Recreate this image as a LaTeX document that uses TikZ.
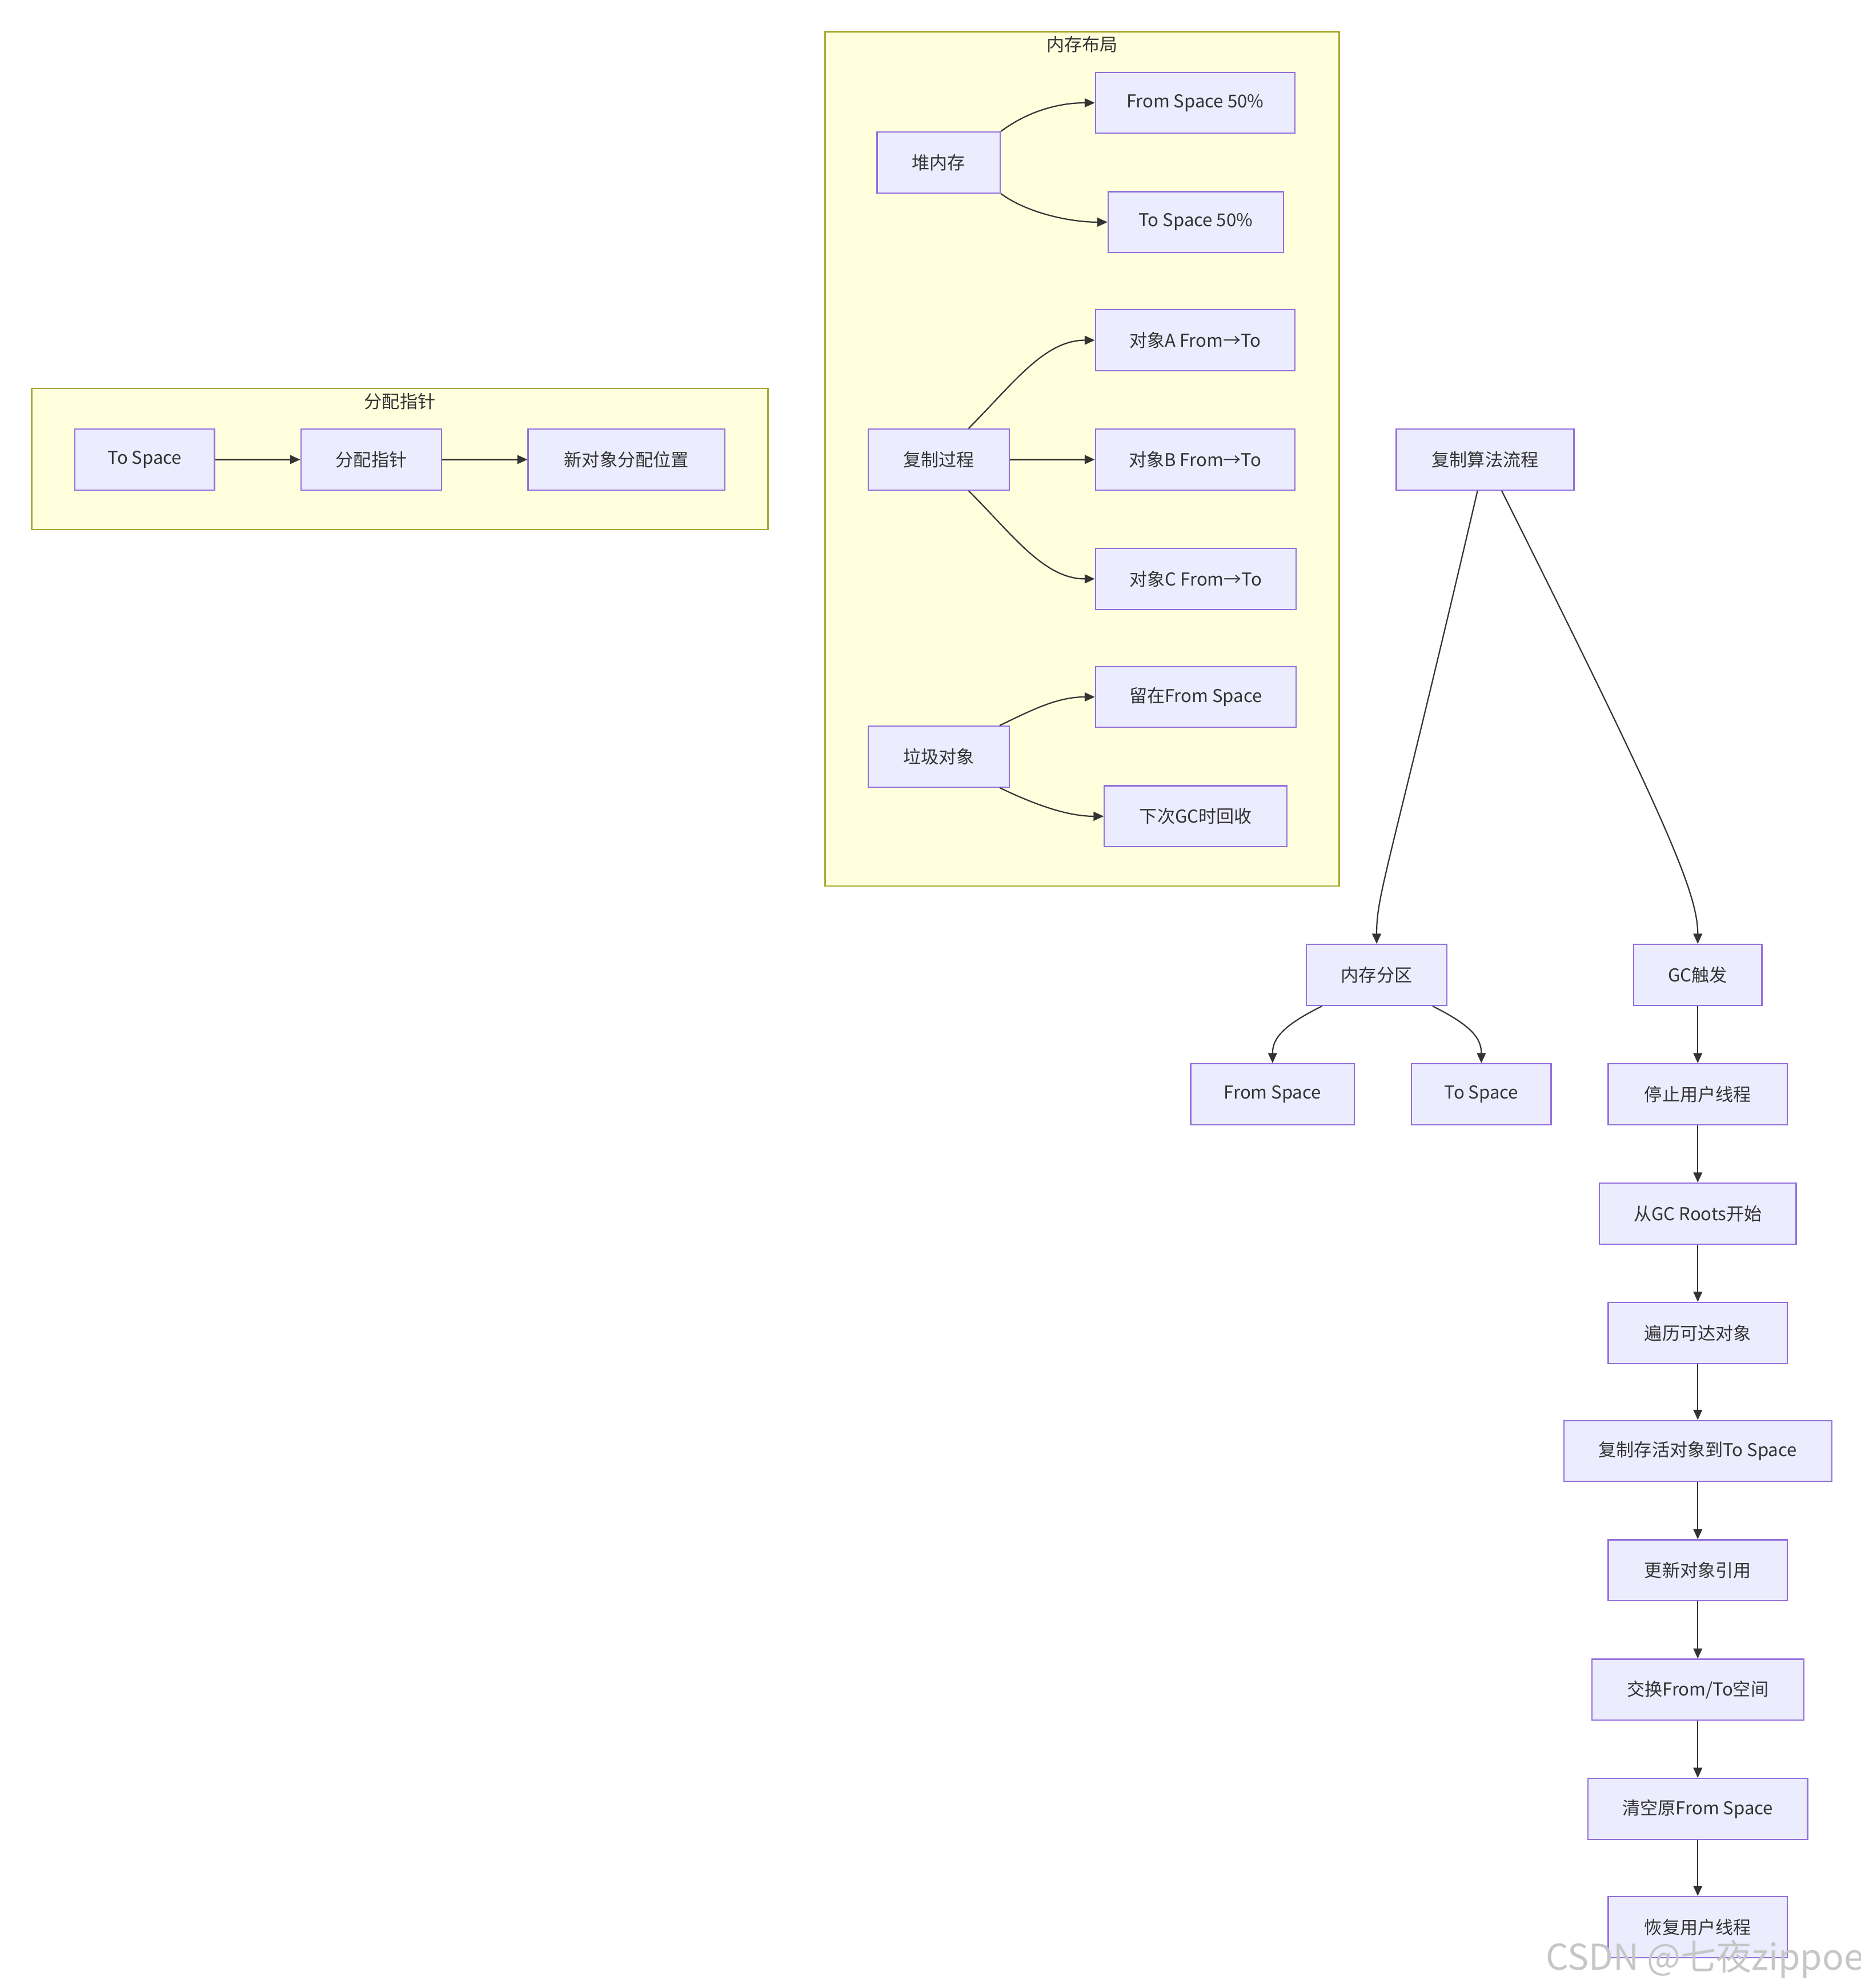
\documentclass[tikz,border=0pt]{standalone}
\usepackage{fontspec}
\setmainfont{Noto Sans CJK SC}
\usepackage{tikz}
\usepackage{xcolor}
\usetikzlibrary{arrows.meta,calc}
\definecolor{boxfill}{HTML}{ECECFF}
\definecolor{boxline}{HTML}{9370DB}
\definecolor{grpfill}{HTML}{FFFFDE}
\definecolor{grpline}{HTML}{AAAA33}
\definecolor{edge}{HTML}{333333}

\begin{document}
\begin{tikzpicture}[x=1pt,y=-1pt,
  box/.style={draw=boxline, fill=boxfill, line width=1pt, minimum height=48pt, inner sep=0pt, font=\fontsize{14}{16}\selectfont, text=edge},
  group/.style={draw=grpline, fill=grpfill, line width=1pt, inner sep=0pt},
  grouptitle/.style={font=\fontsize{14}{16}\selectfont, text=edge, inner sep=0pt},
  link/.style={-{Triangle[length=8pt,width=7pt]}, draw=edge, line width=1pt}]
\useasboundingbox[fill=white] (0,0) rectangle (1466,1566);

% Groups
\node[group, minimum width=405pt, minimum height=673pt] (memgrp) at (852.5,361.5) {};
\node[grouptitle] (memtitle) at (852.5,35) {内存布局};
\node[group, minimum width=580pt, minimum height=111pt] (ptrgrp) at (315,361.5) {};
\node[grouptitle] (ptrtitle) at (315,316) {分配指针};

% Memory layout
\node[box, minimum width=97pt] (heap) at (739.5,128) {堆内存};
\node[box, minimum width=157pt] (fromhalf) at (941.5,81) {From Space 50\%};
\node[box, minimum width=138pt] (tohalf) at (942,175) {To Space 50\%};
\node[box, minimum width=111pt] (copy) at (739.5,362) {复制过程};
\node[box, minimum width=157pt] (objA) at (941.5,268) {对象A From→To};
\node[box, minimum width=157pt] (objB) at (941.5,362) {对象B From→To};
\node[box, minimum width=158pt] (objC) at (942,456) {对象C From→To};
\node[box, minimum width=111pt] (garbage) at (739.5,596) {垃圾对象};
\node[box, minimum width=158pt] (stay) at (942,549) {留在From Space};
\node[box, minimum width=144pt] (nextgc) at (942,643) {下次GC时回收};

% Allocation pointer
\node[box, minimum width=110pt] (tosp) at (114,362) {To Space};
\node[box, minimum width=111pt] (ptr) at (292.5,362) {分配指针};
\node[box, minimum width=155pt] (newpos) at (493.5,362) {新对象分配位置};

% Algorithm flow
\node[box, minimum width=140pt] (flow) at (1170,362) {复制算法流程};
\node[box, minimum width=111pt] (part) at (1084.5,768) {内存分区};
\node[box, minimum width=101pt] (gc) at (1337.5,768) {GC触发};
\node[box, minimum width=129pt] (fromsp) at (1002.5,862) {From Space};
\node[box, minimum width=110pt] (tosp2) at (1167,862) {To Space};
\node[box, minimum width=141pt] (stop) at (1337.5,862) {停止用户线程};
\node[box, minimum width=155pt] (roots) at (1337.5,956) {从GC Roots开始};
\node[box, minimum width=141pt] (trav) at (1337.5,1050) {遍历可达对象};
\node[box, minimum width=211pt] (copyto) at (1337.5,1143) {复制存活对象到To Space};
\node[box, minimum width=141pt] (upd) at (1337.5,1237) {更新对象引用};
\node[box, minimum width=167pt] (swap) at (1337.5,1331) {交换From/To空间};
\node[box, minimum width=173pt] (clear) at (1337.5,1425) {清空原From Space};
\node[box, minimum width=141pt] (resume) at (1337.5,1518) {恢复用户线程};

% Layout arrows
\draw[link] (heap.north east) .. controls +(20,-15) and +(-30,0) .. (fromhalf.west);
\draw[link] (heap.south east) .. controls +(20,15) and +(-30,0) .. (tohalf.west);
\draw[link] ($(copy.north)+(23.5,0)$) .. controls +(35,-35) and +(-40,0) .. (objA.west);
\draw[link] (copy.east) -- (objB.west);
\draw[link] ($(copy.south)+(23.5,0)$) .. controls +(35,35) and +(-40,0) .. (objC.west);
\draw[link] ($(garbage.north east)+(-8,0)$) .. controls +(25,-12) and +(-30,0) .. (stay.west);
\draw[link] ($(garbage.south east)+(-8,0)$) .. controls +(25,12) and +(-30,0) .. (nextgc.west);

% Pointer arrows
\draw[link] (tosp) -- (ptr);
\draw[link] (ptr) -- (newpos);

% Flow arrows
\draw[link] ($(flow.south)+(-6,0)$) .. controls +(-70,300) and +(0,-40) .. (part.north);
\draw[link] ($(flow.south)+(13,0)$) .. controls +(130,260) and +(0,-40) .. (gc.north);
\draw[link] ($(part.south)+(-43,0)$) .. controls +(-30,15) and +(0,-20) .. (fromsp.north);
\draw[link] ($(part.south)+(44,0)$) .. controls +(30,15) and +(0,-20) .. (tosp2.north);
\foreach \a/\b in {gc/stop, stop/roots, roots/trav, trav/copyto, copyto/upd, upd/swap, swap/clear, clear/resume}
  \draw[link] (\a) -- (\b);

\node[text=gray!45, font=\fontsize{28}{30}\selectfont, inner sep=0pt] (mark) at (1343,1543) {CSDN @七夜zippoe};
\end{tikzpicture}
\end{document}
